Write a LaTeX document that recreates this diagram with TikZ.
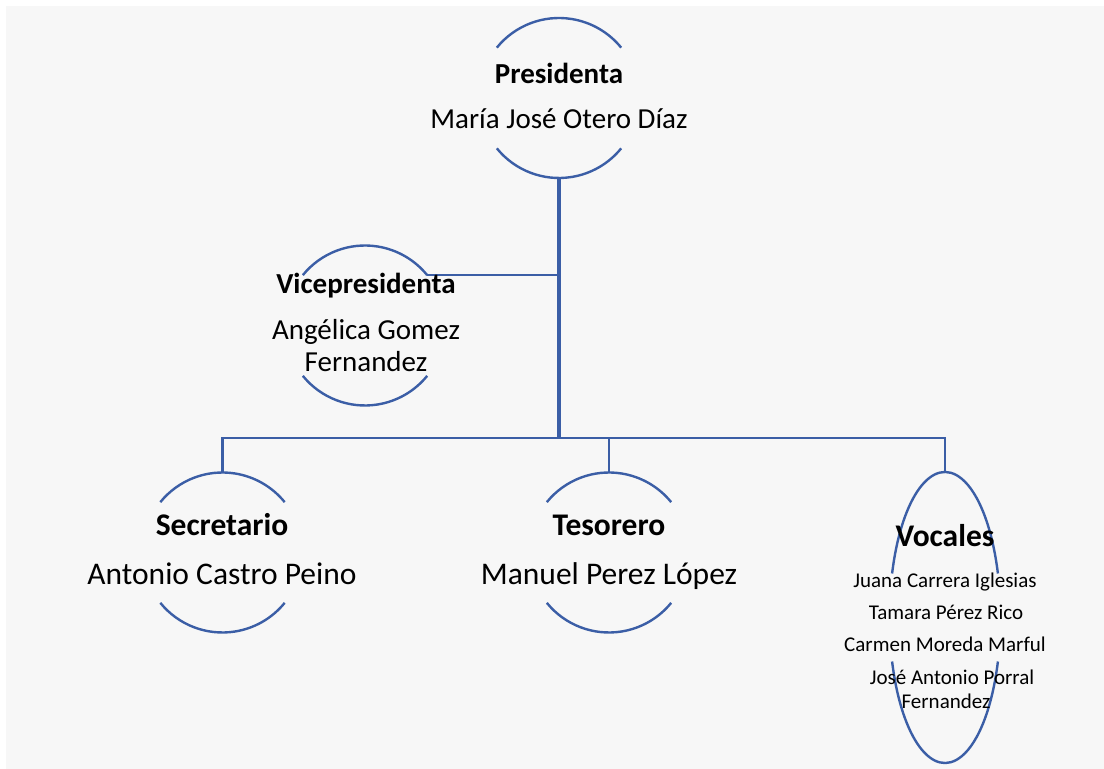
\documentclass[tikz,border=0pt]{standalone}
\usepackage{fontspec}
\setmainfont{Carlito}
\usetikzlibrary{shapes, positioning, calc}
\definecolor{orgblue}{RGB}{59,94,166}
\definecolor{bggray}{RGB}{247,247,247}

\begin{document}
\begin{tikzpicture}
		[x=1pt, y=1pt,
	ring/.style={circle,minimum size=160pt,inner sep=0pt,outer sep=0pt},
	oval/.style={ellipse,minimum width=111pt,minimum height=291pt,inner sep=0pt,outer sep=0pt},
	edge/.style={draw=orgblue,line width=2.4pt},
	link/.style={draw=orgblue,line width=2.4pt},
	trunk/.style={draw=orgblue,line width=4pt},
	role/.style={anchor=base,inner sep=0pt,font=\bfseries\fontsize{29}{35}\selectfont},
	who/.style={anchor=base,inner sep=0pt,font=\fontsize{29}{35}\selectfont},
	rolebig/.style={anchor=base,inner sep=0pt,font=\bfseries\fontsize{31.5}{38}\selectfont},
	whobig/.style={anchor=base,inner sep=0pt,font=\fontsize{31.5}{38}\selectfont},
	member/.style={anchor=base,inner sep=0pt,font=\fontsize{21}{25}\selectfont}
	]
		\useasboundingbox (0,0) rectangle (1104,769);
		\fill[bggray] (6,0) rectangle (1104,763);

		% circles
		\node (pre) [ring] at (559,671) {};
		\node (vic) [ring] at (365,443.5) {};
		\node (sec) [ring] at (222.5,216.5) {};
		\node (tes) [ring] at (609,216.5) {};
		\node (voc) [oval] at (945,151.5) {};
		\coordinate (bar) at (559,331);

		\foreach \c in {pre,vic,sec,tes} {
			\draw [edge] (\c.141) arc[start angle=141,end angle=39,radius=80pt];
			\draw [edge] (\c.-141) arc[start angle=-141,end angle=-39,radius=80pt];
		}
		\draw [edge] ([shift={(162.4:55.5pt and 145.5pt)}]voc.center) arc[start angle=162.4,end angle=17.6,x radius=55.5pt,y radius=145.5pt];
		\draw [edge] ([shift={(197.6:55.5pt and 145.5pt)}]voc.center) arc[start angle=197.6,end angle=342.4,x radius=55.5pt,y radius=145.5pt];

		% lines
		\draw [trunk] (pre.south) -- (bar);
		\draw [link] (vic.39) -- (vic.39 -| pre.south);
		\draw [link] (sec.north) |- (bar) -| (voc.north);
		\draw [link] (tes.north) -- (tes.north |- bar);

		% texts
		\node (preR) [role] at (559,685) {Presidenta};
		\node (preN) [who] at (559,640) {María José Otero Díaz};
		\node (vicR) [role] at (366,475) {Vicepresidenta};
		\node (vicN) [who] at (366,429) {Angélica Gomez};
		\node (vicN2) [who] at (366,397) {Fernandez};
		\node (secR) [rolebig] at (222,233) {Secretario};
		\node (secN) [whobig] at (222,184) {Antonio Castro Peino};
		\node (tesR) [rolebig] at (609,233) {Tesorero};
		\node (tesN) [whobig] at (609,184) {Manuel Perez López};
		\node (vocR) [rolebig] at (945,222) {Vocales};
		\node (voc1) [member] at (945,181.5) {Juana Carrera Iglesias};
		\node (voc2) [member] at (946,149.5) {Tamara Pérez Rico};
		\node (voc3) [member] at (945,117.5) {Carmen Moreda Marful};
		\node (voc4) [member] at (952,84) {José Antonio Porral};
		\node (voc5) [member] at (946,60.5) {Fernandez};
	\end{tikzpicture}
\end{document}
